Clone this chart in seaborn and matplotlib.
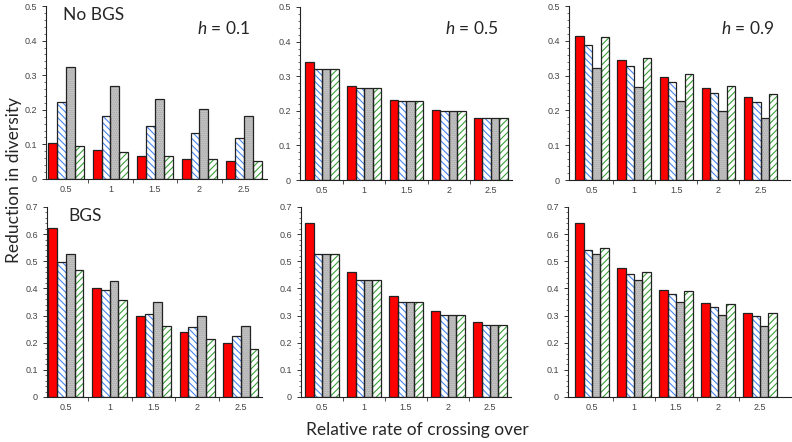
import numpy as np
import pandas as pd
import seaborn as sns
import matplotlib
matplotlib.use('Agg')
import matplotlib.pyplot as plt
from matplotlib.patches import Rectangle
from matplotlib.ticker import MultipleLocator, AutoMinorLocator, FuncFormatter

sns.set_style('ticks')
plt.rcParams['font.family'] = ['Liberation Sans', 'DejaVu Sans']
plt.rcParams['mathtext.fontset'] = 'custom'
plt.rcParams['mathtext.it'] = 'Lato:italic'
plt.rcParams['mathtext.rm'] = 'Lato'
plt.rcParams['hatch.linewidth'] = 0.8

rates = ['0.5', '1', '1.5', '2', '2.5']
series = ['s1', 's2', 's3', 's4']

# rows: red, blue hatched, grey, green hatched
no_bgs_h01 = [[0.104, 0.083, 0.067, 0.059, 0.051],
              [0.223, 0.181, 0.154, 0.133, 0.118],
              [0.325, 0.269, 0.230, 0.202, 0.181],
              [0.095, 0.078, 0.067, 0.058, 0.051]]
no_bgs_h05 = [[0.341, 0.273, 0.232, 0.201, 0.178],
              [0.322, 0.266, 0.227, 0.198, 0.178],
              [0.322, 0.266, 0.227, 0.198, 0.178],
              [0.322, 0.266, 0.227, 0.198, 0.178]]
no_bgs_h09 = [[0.415, 0.344, 0.297, 0.263, 0.239],
              [0.389, 0.327, 0.283, 0.250, 0.224],
              [0.321, 0.266, 0.227, 0.198, 0.177],
              [0.410, 0.350, 0.305, 0.271, 0.246]]
bgs_h01 = [[0.624, 0.402, 0.300, 0.240, 0.200],
           [0.499, 0.394, 0.307, 0.258, 0.224],
           [0.525, 0.429, 0.350, 0.300, 0.263],
           [0.469, 0.356, 0.263, 0.214, 0.178]]
bgs_h05 = [[0.640, 0.459, 0.372, 0.317, 0.278],
           [0.526, 0.430, 0.351, 0.301, 0.264],
           [0.526, 0.430, 0.351, 0.301, 0.264],
           [0.526, 0.430, 0.351, 0.301, 0.264]]
bgs_h09 = [[0.641, 0.474, 0.396, 0.345, 0.308],
           [0.543, 0.452, 0.378, 0.332, 0.297],
           [0.526, 0.430, 0.351, 0.301, 0.262],
           [0.550, 0.461, 0.391, 0.342, 0.308]]

face = ['#ff0000', '#ffffff', '#c9c9c9', '#ffffff']
hatch = ['', '\\\\\\\\\\', '........', '/////']
hatch_col = [None, '#4a86f0', '#a2a2a2', '#3aa03a']

W, H = 792, 442
fig = plt.figure(figsize=(W / 100, H / 100), dpi=100)


def add_axes(x0, x1, ytop, ybot):
    return fig.add_axes([x0 / W, 1 - ybot / H, (x1 - x0) / W, (ybot - ytop) / H])


def draw(ax, values, ymax, xlim):
    df = pd.DataFrame({'rate': np.tile(rates, len(series)),
                       'series': np.repeat(series, len(rates)),
                       'value': np.ravel(values)})
    sns.barplot(data=df, x='rate', y='value', hue='series', order=rates,
                hue_order=series, palette=face, saturation=1, width=0.8,
                errorbar=None, legend=False, ax=ax)
    for k, cont in enumerate(ax.containers):
        for bar in cont:
            bar.set_facecolor(face[k])
            if hatch[k]:
                bar.set_hatch(hatch[k])
                bar.set_edgecolor(hatch_col[k])
                if hasattr(bar, 'set_hatchcolor'):
                    bar.set_hatchcolor(hatch_col[k])
            bar.set_linewidth(0)
            ax.add_patch(Rectangle(bar.get_xy(), bar.get_width(), bar.get_height(),
                                   fill=False, edgecolor='#222222', lw=0.9, zorder=3))
    ax.set_xlim(*xlim)
    ax.set_ylim(0, ymax)
    ax.yaxis.set_major_locator(MultipleLocator(0.1))
    ax.yaxis.set_minor_locator(AutoMinorLocator(5))
    ax.yaxis.set_major_formatter(FuncFormatter(lambda v, _: f'{v:g}'))
    ax.set_xticks(range(len(rates)))
    ax.set_xticklabels(rates)
    ax.set_xticks(np.arange(0.5, len(rates) - 0.5, 1), minor=True)
    ax.tick_params(axis='x', which='major', length=0, pad=4)
    ax.tick_params(axis='x', which='minor', length=3, width=0.6, color='#333333')
    ax.tick_params(axis='y', which='major', length=3, width=0.7, color='#333333')
    ax.tick_params(axis='y', which='minor', length=1.5, width=0.5, color='#333333')
    ax.tick_params(labelsize=6.5, labelcolor='#444444')
    for s in ['left', 'bottom']:
        ax.spines[s].set_linewidth(0.8)
        ax.spines[s].set_color('#222222')
    sns.despine(ax=ax)
    ax.set_xlabel('')
    ax.set_ylabel('')


panels = [
    (no_bgs_h01, 0.5, (-0.45, 4.52), (46, 267, 6, 179)),
    (no_bgs_h05, 0.5, (-0.52, 4.5), (300, 512, 7, 180)),
    (no_bgs_h09, 0.5, (-0.55, 4.7), (569, 790, 6, 180)),
    (bgs_h01, 0.7, (-0.43, 4.48), (47, 262, 207, 397)),
    (bgs_h05, 0.7, (-0.5, 4.5), (301, 511, 207, 397)),
    (bgs_h09, 0.7, (-0.57, 4.74), (568, 791, 207, 397)),
]
for vals, ymax, xlim, box in panels:
    ax = add_axes(*box)
    draw(ax, vals, ymax, xlim)

big = dict(fontsize=12.5, family=['Lato', 'DejaVu Sans'])
fig.text(63 / W, 1 - 15 / H, 'No BGS', ha='left', va='center', **big)
fig.text(68 / W, 1 - 216 / H, 'BGS', ha='left', va='center', **big)
fig.text(250 / W, 1 - 28 / H, '$h$ = 0.1', ha='right', va='center', **big)
fig.text(498 / W, 1 - 28 / H, '$h$ = 0.5', ha='right', va='center', **big)
fig.text(774 / W, 1 - 28 / H, '$h$ = 0.9', ha='right', va='center', **big)
fig.text(417 / W, 1 - 430 / H, 'Relative rate of crossing over', ha='center', va='center', **big)
fig.text(14 / W, 1 - 180 / H, 'Reduction in diversity', ha='center', va='center',
         rotation=90, **big)

fig.savefig('out.png', dpi=100)
